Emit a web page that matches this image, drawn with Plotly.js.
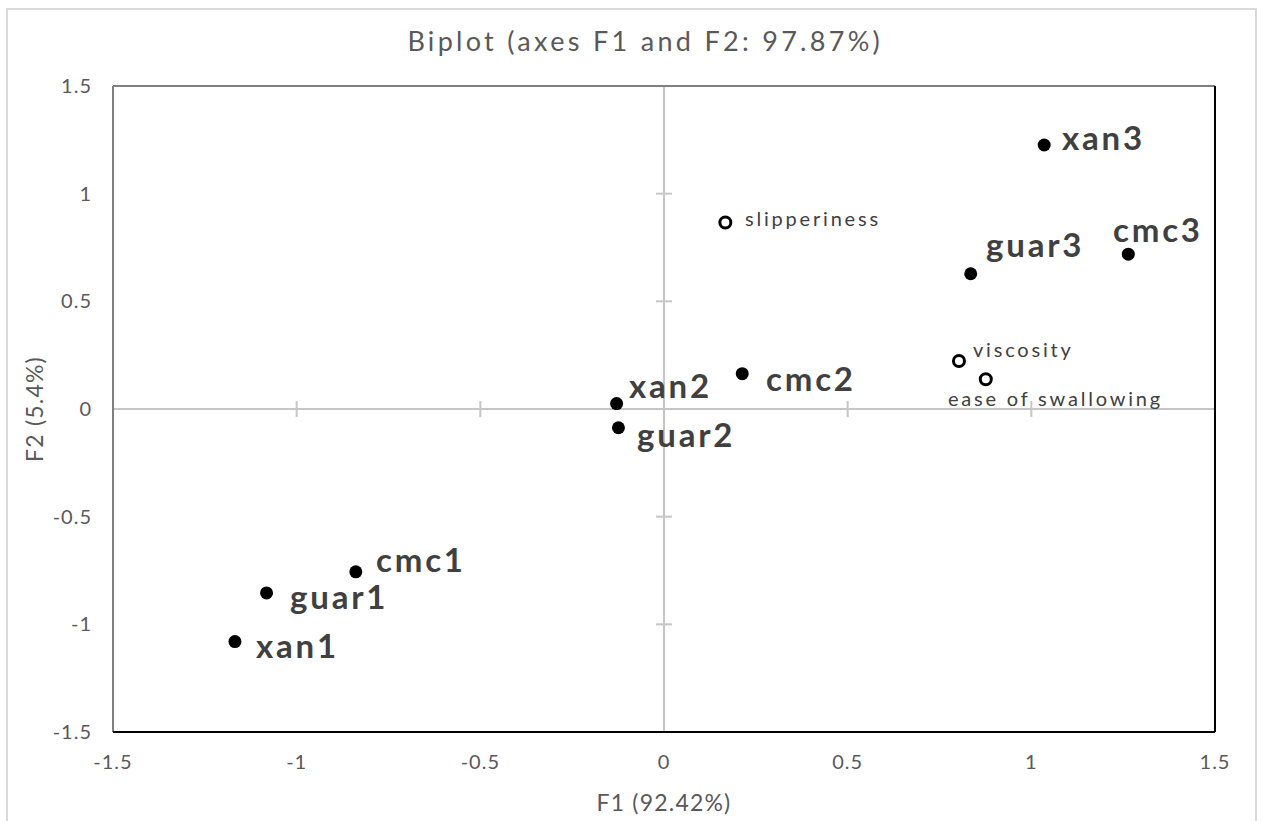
<!DOCTYPE html>
<html>
<head>
<meta charset="utf-8">
<script src="https://cdn.plot.ly/plotly-3.0.1.min.js"></script>
<style>
  html, body { margin: 0; padding: 0; background: #ffffff; }
  #chart { width: 1264px; height: 821px; }
  text.gtitle { letter-spacing: 3.3px; }
  text.annotation-text { letter-spacing: 2.8px; }
  text.xtitle, text.ytitle { letter-spacing: 1.2px; }
  .xtick text, .ytick text { letter-spacing: 1px; }
</style>
</head>
<body>
<div id="chart"></div>
<script>
// Observations (filled markers)
const obsNames = ['xan1', 'xan2', 'xan3', 'guar1', 'guar2', 'guar3', 'cmc1', 'cmc2', 'cmc3'];
const obsF1 = [-1.168, -0.129, 1.035, -1.082, -0.124, 0.835, -0.839, 0.213, 1.264];
const obsF2 = [-1.080, 0.025, 1.226, -0.854, -0.087, 0.628, -0.756, 0.164, 0.719];

// Variables (open markers)
const varNames = ['viscosity', 'slipperiness', 'ease of swallowing'];
const varF1 = [0.803, 0.167, 0.876];
const varF2 = [0.223, 0.866, 0.138];

// Axis ticks
const tickVals = [-1.5, -1, -0.5, 0, 0.5, 1, 1.5];
const tickText = ['-1.5', '-1', '-0.5', '0', '0.5', '1', '1.5'];

// Label placement (pixel offsets from the point; styling only)
const obsLabelShift = {
  xan1: [20, -3], xan2: [11, 19], xan3: [17, 8],
  guar1: [22, -3], guar2: [18, -6], guar3: [14, 30],
  cmc1: [19, 13], cmc2: [23, -4], cmc3: [-16, 25]
};
const varLabelShift = {
  viscosity: [13, 12], slipperiness: [19, 5], 'ease of swallowing': [-39, -19]
};

const traces = [
  {
    type: 'scatter', mode: 'markers', name: 'Observations',
    x: obsF1, y: obsF2, text: obsNames, hoverinfo: 'text',
    marker: { symbol: 'circle', size: 13, color: '#000000' },
    showlegend: false, cliponaxis: false
  },
  {
    type: 'scatter', mode: 'markers', name: 'Variables',
    x: varF1, y: varF2, text: varNames, hoverinfo: 'text',
    marker: { symbol: 'circle', size: 11, color: '#ffffff', line: { color: '#000000', width: 3 } },
    showlegend: false, cliponaxis: false
  }
];

const annotations = [];
obsNames.forEach((n, i) => {
  const s = obsLabelShift[n];
  annotations.push({
    x: obsF1[i], y: obsF2[i], xref: 'x', yref: 'y', text: n, showarrow: false,
    xanchor: 'left', yanchor: 'middle', xshift: s[0], yshift: s[1], borderpad: 0,
    font: { family: 'Lato, sans-serif', size: 33, color: '#404040', weight: 700 }
  });
});
varNames.forEach((n, i) => {
  const s = varLabelShift[n];
  annotations.push({
    x: varF1[i], y: varF2[i], xref: 'x', yref: 'y', text: n, showarrow: false,
    xanchor: 'left', yanchor: 'middle', xshift: s[0], yshift: s[1], borderpad: 0,
    font: { family: 'Lato, sans-serif', size: 20, color: '#404040' }
  });
});

// Cross tick marks on the zero lines
const shapes = [];
const gray = '#c6c6c6';
tickVals.forEach(t => {
  shapes.push({ type: 'line', xref: 'x', x0: t, x1: t, yref: 'y', ysizemode: 'pixel', yanchor: 0, y0: -8, y1: 8,
    line: { color: gray, width: 2 }, layer: 'below' });
  shapes.push({ type: 'line', yref: 'y', y0: t, y1: t, xref: 'x', xsizemode: 'pixel', xanchor: 0, x0: -8, x1: 8,
    line: { color: gray, width: 2 }, layer: 'below' });
});
// Plot-area border: gray top/left, black right/bottom
shapes.push({ type: 'line', xref: 'paper', yref: 'paper', x0: 0, x1: 1, y0: 1, y1: 1, line: { color: '#7f7f7f', width: 2 } });
shapes.push({ type: 'line', xref: 'paper', yref: 'paper', x0: 0, x1: 0, y0: 0, y1: 1, line: { color: '#7f7f7f', width: 2 } });
shapes.push({ type: 'line', xref: 'paper', yref: 'paper', x0: 1, x1: 1, y0: 0, y1: 1, line: { color: '#000000', width: 2 } });
shapes.push({ type: 'line', xref: 'paper', yref: 'paper', x0: 0, x1: 1, y0: 0, y1: 0, line: { color: '#000000', width: 2 } });
// Outer chart frame
shapes.push({ type: 'rect', xref: 'paper', yref: 'paper', x0: -0.0962, x1: 1.0372, y0: -0.16, y1: 1.1192,
  line: { color: '#d9d9d9', width: 2 }, fillcolor: 'rgba(0,0,0,0)', layer: 'below' });

const axisFont = { family: 'Lato, sans-serif', size: 20, color: '#595959' };

const layout = {
  width: 1264, height: 821,
  margin: { l: 113, r: 49, t: 86, b: 89 },
  paper_bgcolor: '#ffffff', plot_bgcolor: '#ffffff',
  title: {
    text: 'Biplot (axes F1 and F2: 97.87%)',
    font: { family: 'Lato, sans-serif', size: 27, color: '#595959' },
    xref: 'container', yref: 'container', x: 0.5105, xanchor: 'center', y: 0.949, yanchor: 'middle'
  },
  xaxis: {
    range: [-1.5, 1.5], tickvals: tickVals, ticktext: tickText,
    showgrid: false, zeroline: true, zerolinecolor: gray, zerolinewidth: 2,
    showline: false, ticks: '', tickfont: axisFont, ticklabelstandoff: 16,
    title: { text: 'F1 (92.42%)', font: { family: 'Lato, sans-serif', size: 23, color: '#595959' }, standoff: 22 },
    fixedrange: true
  },
  yaxis: {
    range: [-1.5, 1.5], tickvals: tickVals, ticktext: tickText,
    showgrid: false, zeroline: true, zerolinecolor: gray, zerolinewidth: 2,
    showline: false, ticks: '', tickfont: axisFont, ticklabelstandoff: 20,
    title: { text: 'F2 (5.4%)', font: { family: 'Lato, sans-serif', size: 23, color: '#595959' }, standoff: 2 },
    fixedrange: true
  },
  annotations: annotations,
  shapes: shapes,
  showlegend: false
};

Plotly.newPlot('chart', traces, layout, { displayModeBar: false, staticPlot: true });
</script>
</body>
</html>
